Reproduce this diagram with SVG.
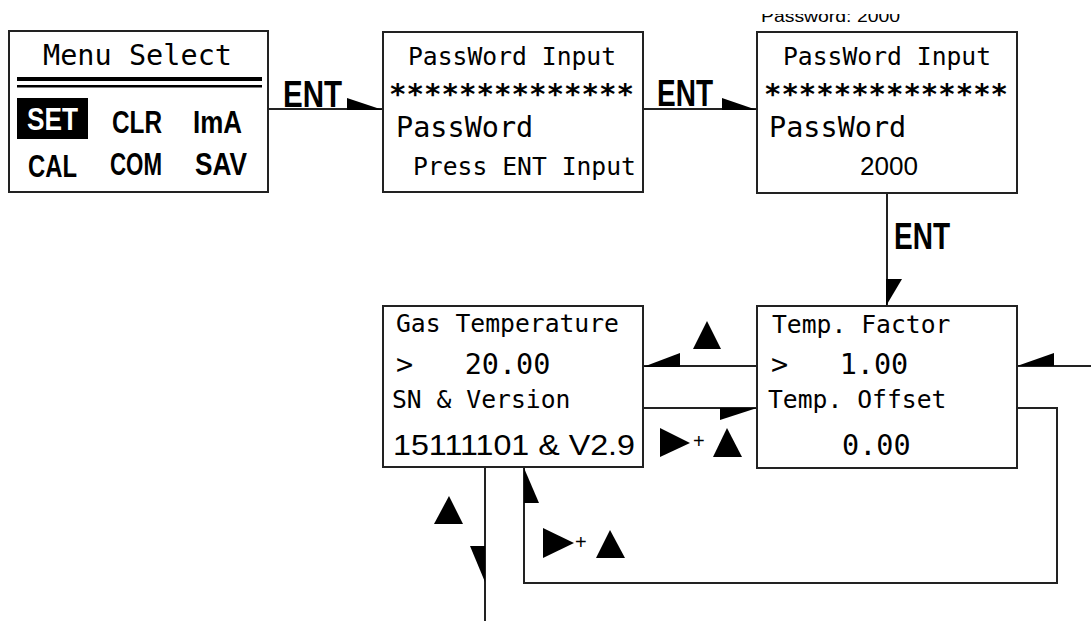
<svg xmlns="http://www.w3.org/2000/svg" width="1091" height="621" viewBox="0 0 1091 621">
<defs>
<style>
.box{fill:#fff;stroke:#222;stroke-width:2}
.m{font-family:"DejaVu Sans Mono","Liberation Mono",monospace;fill:#000;white-space:pre}
.s{font-size:24.7px}
.l{font-size:28.5px}
.ast{font-size:29px;font-weight:bold}
.a{font-family:"Liberation Sans",Arial,sans-serif;fill:#000}
.menu{font-size:31px;font-weight:bold}
.ent{font-size:36px;font-weight:bold}
.ln{fill:none;stroke:#222;stroke-width:2}
.ah{fill:#000;stroke:none}
</style>
<clipPath id="topclip"><rect x="0" y="14" width="1091" height="18"/></clipPath>
</defs>
<rect width="1091" height="621" fill="#fff"/>
<text class="a" x="761" y="22" font-size="16" clip-path="url(#topclip)" textLength="139" lengthAdjust="spacingAndGlyphs">Password: 2000</text>

<g id="connectors">
<polyline class="ln" points="268,109 383,109"/>
<polygon class="ah" points="347,98 347,110 383,110"/>
<text class="a ent" x="283" y="107" textLength="59" lengthAdjust="spacingAndGlyphs">ENT</text>

<polyline class="ln" points="643,109 757,109"/>
<polygon class="ah" points="722,98 722,110 757,110"/>
<text class="a ent" x="657" y="106" textLength="56" lengthAdjust="spacingAndGlyphs">ENT</text>

<polyline class="ln" points="887,193 887,306"/>
<polygon class="ah" points="886,279 902,279 886,306"/>
<text class="a ent" x="894" y="249" textLength="56" lengthAdjust="spacingAndGlyphs">ENT</text>

<polyline class="ln" points="643,366 757,366"/>
<polygon class="ah" points="643,367 680,353 680,367"/>
<polygon class="ah" points="707,321 693,349 721,349"/>

<polyline class="ln" points="1017,366 1091,366"/>
<polygon class="ah" points="1017,366 1054,353 1054,366"/>

<polyline class="ln" points="643,408 757,408"/>
<polygon class="ah" points="720,408 720,420 757,408"/>
<polygon class="ah" points="660,428 660,457 690,443"/>
<text class="a" x="693" y="448" font-size="20">+</text>
<polygon class="ah" points="727,428 713,457 742,457"/>

<polyline class="ln" points="1017,408 1057,408 1057,583 524,583 524,467"/>
<polygon class="ah" points="524,468 524,503 539,503"/>
<polygon class="ah" points="543,528 543,558 574,543"/>
<text class="a" x="575" y="549" font-size="20">+</text>
<polygon class="ah" points="610,530 596,558 625,558"/>

<polyline class="ln" points="485,467 485,621"/>
<polygon class="ah" points="470,546 485,546 485,582"/>
<polygon class="ah" points="449,496 434,524 463,524"/>
</g>

<g id="menu-select">
<rect class="box" x="9" y="31" width="259" height="161"/>
<text class="m l" x="43" y="65" textLength="189" lengthAdjust="spacingAndGlyphs">Menu Select</text>
<rect x="17" y="77" width="245" height="4" fill="#000"/>
<rect x="17" y="85" width="245" height="2.5" fill="#000"/>
<rect x="17" y="98" width="71" height="41" fill="#000"/>
<text class="a menu" x="27" y="130" style="fill:#fff" textLength="51" lengthAdjust="spacingAndGlyphs">SET</text>
<text class="a menu" x="112" y="133" textLength="50" lengthAdjust="spacingAndGlyphs">CLR</text>
<text class="a menu" x="193" y="133" textLength="49" lengthAdjust="spacingAndGlyphs">ImA</text>
<text class="a menu" x="28" y="177" textLength="49" lengthAdjust="spacingAndGlyphs">CAL</text>
<text class="a menu" x="110" y="175" textLength="52" lengthAdjust="spacingAndGlyphs">COM</text>
<text class="a menu" x="195" y="175" textLength="52" lengthAdjust="spacingAndGlyphs">SAV</text>
</g>

<g id="password-input">
<rect class="box" x="383" y="32" width="260" height="160"/>
<text class="m s" x="408" y="65">PassWord Input</text>
<text class="m ast" x="389" y="104" textLength="245" lengthAdjust="spacingAndGlyphs">**************</text>
<text class="m l" x="396" y="137">PassWord</text>
<text class="m s" x="413" y="175">Press ENT Input</text>
</g>

<g id="password-2000">
<rect class="box" x="757" y="32" width="260" height="161"/>
<text class="m s" x="783" y="65">PassWord Input</text>
<text class="m ast" x="764" y="104" textLength="244" lengthAdjust="spacingAndGlyphs">**************</text>
<text class="m l" x="769" y="137">PassWord</text>
<text class="a" x="860" y="175" font-size="26" textLength="58" lengthAdjust="spacingAndGlyphs">2000</text>
</g>

<g id="gas-temperature">
<rect class="box" x="383" y="306" width="260" height="161"/>
<text class="m s" x="396" y="332">Gas Temperature</text>
<text class="m l" x="396" y="374">&gt;   20.00</text>
<text class="m s" x="392" y="408">SN &amp; Version</text>
<text class="a" x="393" y="455" font-size="30" textLength="242" lengthAdjust="spacingAndGlyphs">15111101 &amp; V2.9</text>
</g>

<g id="temp-factor">
<rect class="box" x="757" y="306" width="260" height="162"/>
<text class="m s" x="772" y="333">Temp. Factor</text>
<text class="m l" x="771" y="374">&gt;   1.00</text>
<text class="m s" x="768" y="408">Temp. Offset</text>
<text class="m l" x="842" y="455">0.00</text>
</g>
</svg>
